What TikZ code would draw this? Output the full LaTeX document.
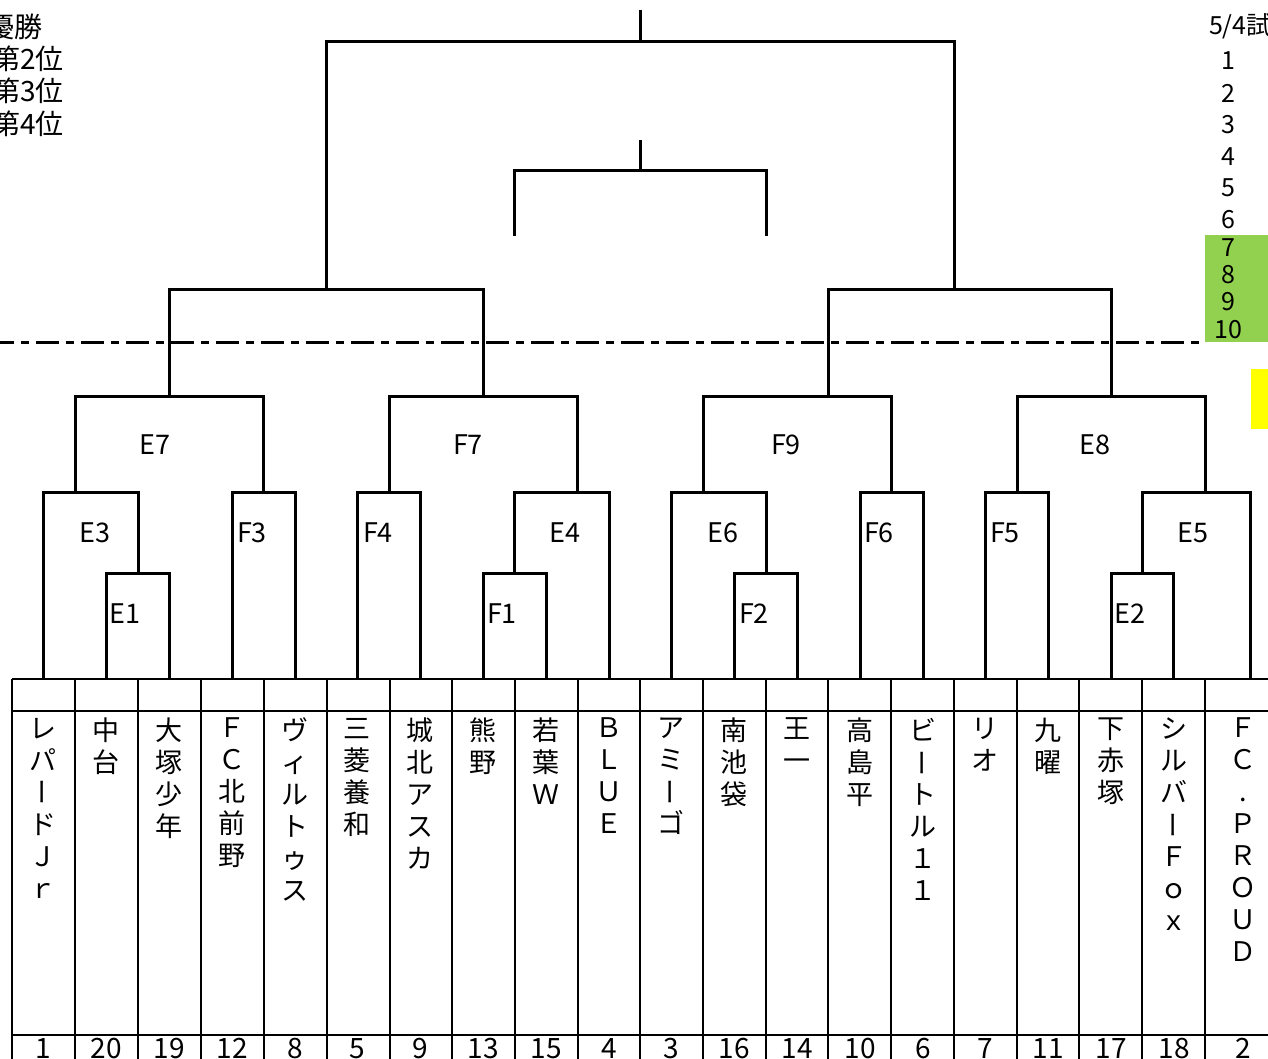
\documentclass[tikz,border=0pt]{standalone}
\usepackage{fontspec}
\newfontfamily\jpfont{Noto Sans CJK JP}
\usepackage{tikz}
\usetikzlibrary{positioning}
\tikzset{pxgrid/.style={x=0.5pt,y=-0.5pt,every node/.style={inner sep=0pt,outer sep=0pt,anchor=center,align=center}}}
\definecolor{tsline}{HTML}{000000}
\definecolor{kimidori}{HTML}{92D050}
\definecolor{kiiro}{HTML}{FFFF00}
\newcommand\bou{\rotatebox[origin=c]{90}{\vphantom{国}ー}}
\tikzset{
  sen/.style={draw=tsline,line width=1.5pt},
  waku/.style={draw=tsline,line width=1.4pt},
  kugiri/.style={draw=tsline,line width=1.5pt,dash pattern=on 11.5pt off 3.5pt on 4pt off 3.5pt,dash phase=4.5pt},
  kigo/.style={font=\jpfont\fontsize{13.5}{16}\selectfont,text=tsline},
  mei/.style={font=\jpfont\fontsize{13.5}{16}\selectfont,text=tsline,anchor=north},
  bango/.style={font=\jpfont\fontsize{14}{16}\selectfont,text=tsline,anchor=base},
  jun/.style={font=\jpfont\fontsize{14}{16}\selectfont,text=tsline,anchor=west},
  yotei/.style={font=\jpfont\fontsize{12.5}{14}\selectfont,text=tsline},
}
\begin{document}
\begin{tikzpicture}[pxgrid]
  \useasboundingbox (0,0) rectangle (1268,1059);
  \clip (0,0) rectangle (1268,1059);
  % ---順位と日程
  \node[jun] (yusho) at (-13,27) {優勝};
  \node[jun] (dai2) at (-8,59) {第2位};
  \node[jun] (dai3) at (-8,91) {第3位};
  \node[jun] (dai4) at (-8,124) {第4位};
  \fill[kimidori] (1205,235) rectangle (1268,342);
  \fill[kiiro] (1251,369) rectangle (1268,429);
  \node[yotei,anchor=west] (hizuke) at (1209,26) {5/4試};
  \node[yotei] (y1) at (1228,61) {1};  \node[yotei] (y2) at (1228,93) {2};
  \node[yotei] (y3) at (1228,125) {3}; \node[yotei] (y4) at (1228,157) {4};
  \node[yotei] (y5) at (1228,188) {5}; \node[yotei] (y6) at (1228,220) {6};
  \node[yotei] (y7) at (1228,248) {7}; \node[yotei] (y8) at (1228,275) {8};
  \node[yotei] (y9) at (1228,302) {9}; \node[yotei] (y10) at (1228,330) {10};
  \draw[kugiri] (0,342) -- (1205,342);
  % --- 決勝・3位決定戦
  \draw[sen] (640,10) -- (640,42);
  \draw[sen] (326,289) |- (954,42) -- (954,289);
  \draw[sen] (640,140) -- (640,171);
  \draw[sen] (514,236) |- (766,171) -- (766,236);
  % --- 準決勝
  \draw[sen] (169,396) |- (483,289) -- (483,396);
  \draw[sen] (828,396) |- (1111,289) -- (1111,396);
  % --- 準々決勝
  \draw[sen] (75,492) |- (263,396) -- (263,492);
  \draw[sen] (389,492) |- (577,396) -- (577,492);
  \draw[sen] (703,492) |- (891,396) -- (891,492);
  \draw[sen] (1017,492) |- (1205,396) -- (1205,492);
  \node[kigo] (e7) at (155,445) {E7};
  \node[kigo] (f7) at (468,445) {F7};
  \node[kigo] (f9) at (786,445) {F9};
  \node[kigo] (e8) at (1095,445) {E8};
  % --- 2回戦
  \draw[sen] (43,679) |- (138,492) -- (138,573);
  \draw[sen] (232,679) |- (295,492) -- (295,679);
  \draw[sen] (357,679) |- (420,492) -- (420,679);
  \draw[sen] (514,573) |- (609,492) -- (609,679);
  \draw[sen] (671,679) |- (766,492) -- (766,573);
  \draw[sen] (860,679) |- (923,492) -- (923,679);
  \draw[sen] (985,679) |- (1048,492) -- (1048,679);
  \draw[sen] (1142,573) |- (1250,492) -- (1250,679);
  \node[kigo] (e3) at (95,533) {E3};
  \node[kigo] (f3) at (252,533) {F3};
  \node[kigo] (f4) at (378,533) {F4};
  \node[kigo] (e4) at (565,533) {E4};
  \node[kigo] (e6) at (723,533) {E6};
  \node[kigo] (f6) at (879,533) {F6};
  \node[kigo] (f5) at (1005,533) {F5};
  \node[kigo] (e5) at (1193,533) {E5};
  % --- 1回戦
  \draw[sen] (106,679) |- (169,573) -- (169,679);
  \draw[sen] (483,679) |- (546,573) -- (546,679);
  \draw[sen] (734,679) |- (797,573) -- (797,679);
  \draw[sen] (1111,679) |- (1173,573) -- (1173,679);
  \node[kigo] (e1) at (125,614) {E1};
  \node[kigo] (f1) at (502,614) {F1};
  \node[kigo] (f2) at (754,614) {F2};
  \node[kigo] (e2) at (1130,614) {E2};
  % --- チーム表
  \draw[waku] (12,679) -- (1268,679);
  \draw[waku] (12,711) -- (1268,711);
  \draw[waku] (12,1035) -- (1268,1035);
  \foreach \x in {12,75,138,201,264,327,390,452,515,578,640,703,766,828,891,954,1017,1079,1142,1205}
    \draw[waku] (\x,679) -- (\x,1059);
  \node[mei] (t1) at (43,718) {レ\\パ\\\bou\\ド\\Ｊ\\ｒ};
  \node[mei] (t2) at (106,718) {中\\台};
  \node[mei] (t3) at (169,718) {大\\塚\\少\\年};
  \node[mei] (t4) at (232,718) {Ｆ\\Ｃ\\北\\前\\野};
  \node[mei] (t5) at (295,718) {ヴ\\ィ\\ル\\ト\\ゥ\\ス};
  \node[mei] (t6) at (357,718) {三\\菱\\養\\和};
  \node[mei] (t7) at (420,718) {城\\北\\ア\\ス\\カ};
  \node[mei] (t8) at (483,718) {熊\\野};
  \node[mei] (t9) at (546,718) {若\\葉\\Ｗ};
  \node[mei] (t10) at (609,718) {Ｂ\\Ｌ\\Ｕ\\Ｅ};
  \node[mei] (t11) at (671,718) {ア\\ミ\\\bou\\ゴ};
  \node[mei] (t12) at (734,718) {南\\池\\袋};
  \node[mei] (t13) at (797,718) {王\\一};
  \node[mei] (t14) at (860,718) {高\\島\\平};
  \node[mei] (t15) at (923,718) {ビ\\\bou\\ト\\ル\\１\\１};
  \node[mei] (t16) at (985,718) {リ\\オ};
  \node[mei] (t17) at (1048,718) {九\\曜};
  \node[mei] (t18) at (1111,718) {下\\赤\\塚};
  \node[mei] (t19) at (1174,718) {シ\\ル\\バ\\\bou\\Ｆ\\ｏ\\ｘ};
  \node[mei] (t20) at (1243,718) {Ｆ\\Ｃ\\.\\Ｐ\\Ｒ\\Ｏ\\Ｕ\\Ｄ};
  % 抽選番号
  \node[bango] (n1) at (43,1058) {1};    \node[bango] (n2) at (106,1058) {20};
  \node[bango] (n3) at (169,1058) {19};  \node[bango] (n4) at (232,1058) {12};
  \node[bango] (n5) at (295,1058) {8};   \node[bango] (n6) at (357,1058) {5};
  \node[bango] (n7) at (420,1058) {9};   \node[bango] (n8) at (483,1058) {13};
  \node[bango] (n9) at (546,1058) {15};  \node[bango] (n10) at (609,1058) {4};
  \node[bango] (n11) at (671,1058) {3};  \node[bango] (n12) at (734,1058) {16};
  \node[bango] (n13) at (797,1058) {14}; \node[bango] (n14) at (860,1058) {10};
  \node[bango] (n15) at (923,1058) {6};  \node[bango] (n16) at (985,1058) {7};
  \node[bango] (n17) at (1048,1058) {11}; \node[bango] (n18) at (1111,1058) {17};
  \node[bango] (n19) at (1174,1058) {18}; \node[bango] (n20) at (1243,1058) {2};
\end{tikzpicture}
\end{document}
